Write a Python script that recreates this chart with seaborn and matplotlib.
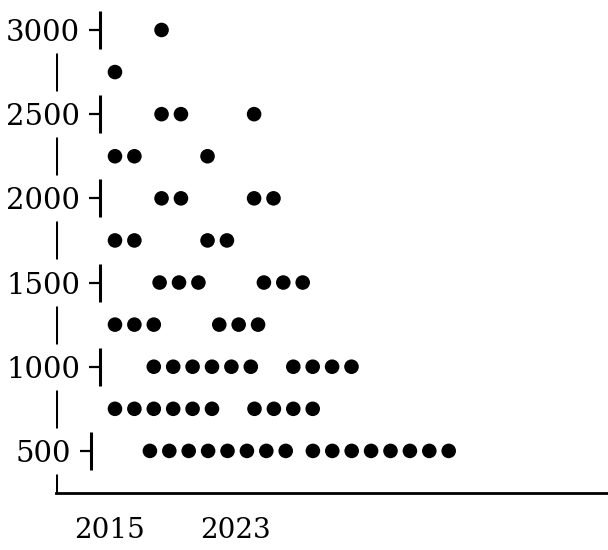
import numpy as np
import pandas as pd
import seaborn as sns
import matplotlib.pyplot as plt

# rows of the dot plot (value bins) and dot counts per year
row_values = [500, 750, 1000, 1250, 1500, 1750, 2000, 2250, 2500, 2750, 3000]
count_2015 = [8, 6, 6, 3, 3, 2, 2, 2, 2, 1, 1]
count_2023 = [8, 4, 4, 3, 3, 2, 2, 1, 1, 0, 0]
years = ["2015", "2023"]
y_ticks = [500, 1000, 1500, 2000, 2500, 3000]
spine_rows = [250, 750, 1250, 1750, 2250, 2750]


def build_frame():
    recs = []
    for val, n1, n2 in zip(row_values, count_2015, count_2023):
        labeled = val in y_ticks
        start = (2.4 - 0.1 * max(n1 - 2, 0)) if labeled else 0.0
        for i in range(n1):
            recs.append({"x": start + i, "value": val, "year": years[0]})
        start2 = start + 3.56 + 0.605 * n1
        for i in range(n2):
            recs.append({"x": start2 + i, "value": val, "year": years[1]})
    return pd.DataFrame(recs)


df = build_frame()

sns.set_style("white")
plt.rcParams["font.family"] = ["DejaVu Serif"]
plt.rcParams["text.color"] = "black"
plt.rcParams["xtick.labelcolor"] = "black"
plt.rcParams["ytick.labelcolor"] = "black"

fig = plt.figure(figsize=(6.08, 5.5), dpi=100)
L, R, B, T = 56 / 608, 1.0, 57 / 550, 1.0
ax = fig.add_axes([L, B, R - L, T - B])

sns.scatterplot(data=df, x="x", y="value", hue="year", palette=["black", "black"],
                s=110, linewidth=0, legend=False, ax=ax)

ax.set_xlim(-3.04, 25.41)
ax.set_ylim(250, 3178)
ax.set_xlabel("")
ax.set_ylabel("")

for side in ["top", "right", "left"]:
    ax.spines[side].set_visible(False)
ax.spines["bottom"].set_linewidth(2.0)
ax.spines["bottom"].set_color("black")

# year labels and small grey ticks along the bottom
ax.set_xticks([-0.26, 6.19])
ax.set_xticklabels(years, fontsize=20, color="black")
ax.tick_params(axis="x", which="major", length=0, pad=17)
ax.set_xticks(np.arange(-2.41, 25.5, 1.1686), minor=True)
ax.tick_params(axis="x", which="minor", length=2.5, width=0.8, color="#888888")

# y labels centred, then a tick and bar drawn after each label
ax.set_yticks(y_ticks)
ax.set_yticklabels([str(v) for v in y_ticks], fontsize=21, color="black")
ax.tick_params(axis="y", length=0, pad=9.4)
for lab in ax.get_yticklabels():
    lab.set_horizontalalignment("center")

trans = ax.get_yaxis_transform()
half = 113
for v in spine_rows:
    ax.plot([0, 0], [v - half, v + half], color="black", lw=2.2, transform=trans,
            clip_on=True, solid_capstyle="butt")

fig.canvas.draw()
ax_w = fig.bbox.width * (R - L)
ax_x0 = fig.bbox.width * L
for lab in ax.get_yticklabels():
    bb = lab.get_window_extent()
    v = lab.get_position()[1]
    right = (bb.x1 - ax_x0) / ax_w
    t0 = right + 9 / ax_w
    t1 = right + 20 / ax_w
    ax.plot([t0, t1], [v, v], color="black", lw=1.6, transform=trans, clip_on=False,
            solid_capstyle="butt")
    ax.plot([t1, t1], [v - half, v + half], color="black", lw=2.2, transform=trans,
            clip_on=False, solid_capstyle="butt")

plt.savefig("out.png", dpi=100)
